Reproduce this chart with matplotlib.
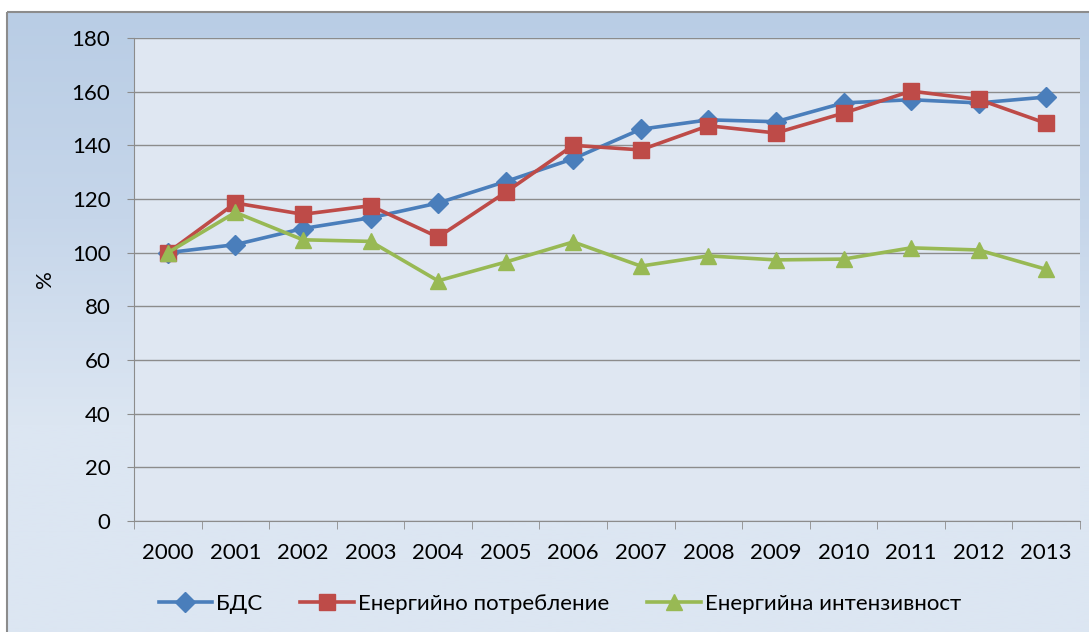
import numpy as np
import matplotlib
matplotlib.use("Agg")
import matplotlib.pyplot as plt
from matplotlib.colors import LinearSegmentedColormap
from matplotlib.patches import Rectangle

plt.rcParams["font.family"] = ["Lato", "DejaVu Sans"]

years = ["2000", "2001", "2002", "2003", "2004", "2005", "2006",
         "2007", "2008", "2009", "2010", "2011", "2012", "2013"]
gdp = [100, 103, 109, 113, 118.5, 126.5, 135, 146, 149.5, 148.8, 155.8, 157, 155.8, 158]
energy_use = [100, 118.5, 114.3, 117.5, 105.8, 122.5, 140, 138.3, 147.3, 144.6, 152, 160.2, 157.1, 148.2]
intensity = [100, 115, 104.8, 104.2, 89.5, 96.5, 104, 95, 98.8, 97.3, 97.6, 101.8, 101, 93.8]
labels = ["БДС", "Енергийно потребление", "Енергийна интензивност"]

W, H = 1089, 632
fig = plt.figure(figsize=(W / 100, H / 100), dpi=100)
fig.patch.set_facecolor("white")

# chart area background with soft gradient
bg = fig.add_axes([0, 0, 1, 1])
bg.set_xlim(0, W)
bg.set_ylim(H, 0)
bg.axis("off")
cmap = LinearSegmentedColormap.from_list("bg", ["#b9cde5", "#c6d6ea", "#dce6f2", "#dce6f2"])
grad = np.linspace(0, 1, 256).reshape(-1, 1)
bg.imshow(grad, cmap=cmap, aspect="auto", extent=(7, W + 2, H, 12), zorder=0)
bg.add_patch(Rectangle((7, 12), W, H, fill=False, edgecolor="#8c8c8c", linewidth=1.5, zorder=1))

ax = fig.add_axes([134 / W, (H - 521) / H, (1080 - 134) / W, (521 - 38) / H])
ax.set_facecolor("#dfe7f2")

x = np.arange(len(years))
ax.plot(x, gdp, color="#4a7ebb", lw=2.6, marker="D", ms=10, label=labels[0], zorder=3)
ax.plot(x, energy_use, color="#be4b48", lw=2.6, marker="s", ms=11, label=labels[1], zorder=4)
ax.plot(x, intensity, color="#98b954", lw=2.6, marker="^", ms=12, label=labels[2], zorder=5)

ax.set_xlim(-0.5, len(years) - 0.5)
ax.set_ylim(0, 180)
ax.set_yticks(range(0, 181, 20))
ax.set_xticks(x)
ax.set_xticklabels(years)
ax.set_xticks(np.arange(-0.5, len(years)), minor=True)
ax.tick_params(axis="x", which="major", length=0, pad=16, labelsize=16)
ax.tick_params(axis="x", which="minor", length=6, color="#8c8c8c", direction="out")
ax.tick_params(axis="y", length=5, color="#8c8c8c", pad=12, labelsize=16)
ax.yaxis.grid(True, color="#8c8c8c", linewidth=1)
ax.set_axisbelow(True)
for side in ["top", "right"]:
    ax.spines[side].set_visible(False)
for side in ["left", "bottom"]:
    ax.spines[side].set_color("#8c8c8c")
ax.set_ylabel("%", fontsize=16, labelpad=12)

fig.legend(loc="center", bbox_to_anchor=(560 / W, (H - 604) / H), ncol=3, frameon=False,
           fontsize=16, handlelength=2.4, handletextpad=0.2, columnspacing=1.7)

fig.savefig("out.png", dpi=100)
